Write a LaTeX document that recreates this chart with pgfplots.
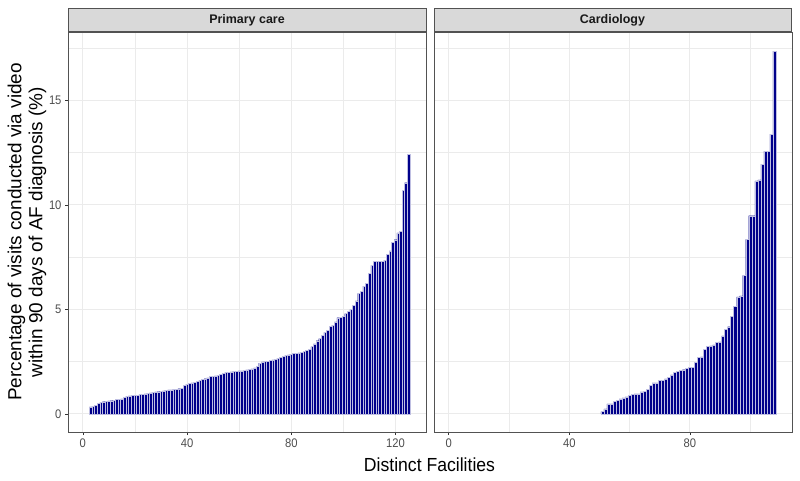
\documentclass[border=0pt]{standalone}
\usepackage{pgfplots}
\pgfplotsset{compat=1.18}
\usepackage{fontspec}
\setmainfont{Liberation Sans}
\newfontfamily\ticknarrow{Liberation Sans}[FakeStretch=0.9]
\newfontfamily\titlenarrow{Liberation Sans}[FakeStretch=0.93]
\definecolor{barblue}{HTML}{00008B}
\definecolor{grid92}{HTML}{EBEBEB}
\definecolor{grey20}{HTML}{333333}
\definecolor{grey30}{HTML}{4D4D4D}
\definecolor{grey85}{HTML}{D9D9D9}
\pgfplotsset{facet/.style={
  scale only axis, width=358bp, height=400bp,
  anchor=south west,
  ymin=-0.87, ymax=18.27,
  ytick={0,5,10,15}, minor ytick={2.5,7.5,12.5,17.5},
  grid=both,
  major grid style={grid92, line width=1bp},
  minor grid style={grid92, line width=0.5bp},
  axis line style={grey20!85!white, line width=0.6bp},
  tick align=outside, xtick pos=left, ytick pos=left,
  major tick length=3bp, minor tick length=0pt,
  tick style={grey20, line width=0.6bp},
  ticklabel style={font=\ticknarrow\fontsize{12.5}{14}\selectfont, text=grey30},
  /pgf/number format/assume math mode=true,
  ybar, bar width=1,
}}
\begin{document}
\begin{tikzpicture}
\useasboundingbox (0,0) rectangle (800bp,-481bp);
\begin{axis}[facet, at={(68bp,-432bp)},
  xmin=-5.7, xmax=131.7, xtick={0,40,80,120}, minor xtick={20,60,100}]
\addplot[fill=barblue, draw=white!75!barblue, line width=0.3bp] coordinates {
(3,0.33)(4,0.35)(5,0.40)(6,0.50)(7,0.55)(8,0.58)(9,0.60)(10,0.62)(11,0.63)(12,0.65)
(13,0.68)(14,0.70)(15,0.72)(16,0.78)(17,0.85)(18,0.86)(19,0.87)(20,0.88)(21,0.90)(22,0.92)
(23,0.93)(24,0.95)(25,0.97)(26,1.00)(27,1.02)(28,1.05)(29,1.06)(30,1.08)(31,1.10)(32,1.12)
(33,1.14)(34,1.15)(35,1.16)(36,1.18)(37,1.20)(38,1.22)(39,1.35)(40,1.42)(41,1.45)(42,1.48)
(43,1.50)(44,1.55)(45,1.60)(46,1.65)(47,1.68)(48,1.72)(49,1.78)(50,1.80)(51,1.82)(52,1.85)
(53,1.90)(54,1.95)(55,1.98)(56,2.00)(57,2.01)(58,2.02)(59,2.03)(60,2.05)(61,2.06)(62,2.08)
(63,2.10)(64,2.12)(65,2.15)(66,2.20)(67,2.28)(68,2.42)(69,2.48)(70,2.50)(71,2.52)(72,2.55)
(73,2.58)(74,2.62)(75,2.65)(76,2.70)(77,2.75)(78,2.80)(79,2.82)(80,2.85)(81,2.88)(82,2.90)
(83,2.92)(84,2.95)(85,3.00)(86,3.05)(87,3.10)(88,3.22)(89,3.35)(90,3.50)(91,3.60)(92,3.75)
(93,3.90)(94,4.00)(95,4.20)(96,4.22)(97,4.40)(98,4.60)(99,4.62)(100,4.68)(101,4.80)(102,4.92)
(103,5.00)(104,5.20)(105,5.40)(106,5.76)(107,5.87)(108,6.11)(109,6.25)(110,6.71)(111,7.10)(112,7.30)
(113,7.30)(114,7.30)(115,7.30)(116,7.35)(117,7.62)(118,7.80)(119,8.20)(120,8.33)(121,8.66)(122,8.73)
(123,10.68)(124,11.06)(125,12.43)};
\end{axis}
\begin{axis}[facet, at={(434bp,-432bp)},
  xmin=-4.85, xmax=113.85, xtick={0,40,80}, minor xtick={20,60,100},
  yticklabels={}, ytick style={draw=none}]
\addplot[fill=barblue, draw=white!75!barblue, line width=0.3bp] coordinates {
(51,0.11)(52,0.24)(53,0.48)(54,0.48)(55,0.60)(56,0.65)(57,0.71)(58,0.76)(59,0.81)(60,0.90)
(61,0.94)(62,0.95)(63,0.95)(64,1.05)(65,1.08)(66,1.17)(67,1.35)(68,1.48)(69,1.48)(70,1.60)
(71,1.60)(72,1.67)(73,1.76)(74,1.86)(75,1.98)(76,2.02)(77,2.08)(78,2.11)(79,2.19)(80,2.21)
(81,2.21)(82,2.46)(83,2.71)(84,2.73)(85,3.08)(86,3.22)(87,3.25)(88,3.30)(89,3.41)(90,3.44)
(91,3.73)(92,4.05)(93,4.17)(94,4.65)(95,5.13)(96,5.60)(97,5.64)(98,6.62)(99,8.35)(100,9.48)
(101,9.48)(102,11.15)(103,11.20)(104,11.95)(105,12.57)(106,12.57)(107,13.38)(108,17.35)};
\end{axis}
\draw[fill=grey85, draw=grey20!85!white, line width=0.6bp] (68bp,-32bp) rectangle (426bp,-8bp);
\draw[fill=grey85, draw=grey20!85!white, line width=0.6bp] (434bp,-32bp) rectangle (791bp,-8bp);
\draw[grey20!85!white, line width=1.2bp] (68bp,-32bp) -- (426bp,-32bp);
\draw[grey20!85!white, line width=1.2bp] (434bp,-32bp) -- (791bp,-32bp);
\node[font=\bfseries\fontsize{12.5}{14}\selectfont, text=black!90] at (247bp,-20bp) {Primary care};
\node[font=\bfseries\fontsize{12.5}{14}\selectfont, text=black!90] at (612.5bp,-20bp) {Cardiology};
\node[font=\titlenarrow\fontsize{19}{22}\selectfont] at (429.5bp,-465bp) {Distinct Facilities};
\node[font=\fontsize{19}{21}\selectfont, rotate=90, align=center] at (27bp,-232bp)
  {Percentage of visits conducted via video\\within 90 days of AF diagnosis (\%)};
\end{tikzpicture}
\end{document}
